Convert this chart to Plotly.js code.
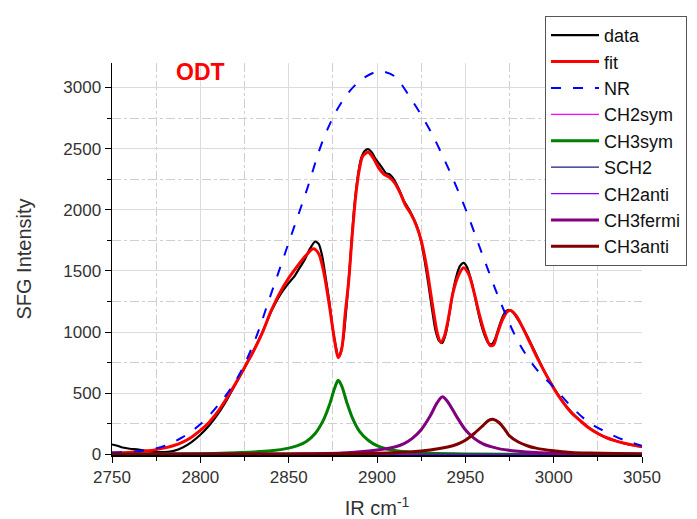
<!DOCTYPE html>
<html>
<head>
<meta charset="utf-8">
<script src="https://cdn.plot.ly/plotly-3.0.1.min.js"></script>
<style>html,body{margin:0;padding:0;background:#fff;}#chart{width:697px;height:519px;}</style>
</head>
<body>
<div id="chart"></div>
<script>
// ---- data ----
const dataX = [2750,2753,2756,2760,2765,2770,2775,2780,2785,2790,2795,2800,2805,2810,2815,2820,2825,2830,2835,2840,2845,2850,2853,2856,2859,2862,2865,2867,2869,2871,2873,2875,2877,2878,2879,2881,2883,2885,2887,2889,2891,2893,2895,2897,2899,2901,2903,2905,2907,2909,2911,2913,2915,2917,2919,2921,2923,2925,2927,2929,2931,2933,2935,2937,2939,2941,2943,2945,2947,2949,2951,2953,2955,2957,2959,2961,2963,2965,2967,2969,2971,2973,2975,2977,2979,2982,2985,2988,2991,2995,3000,3005,3010,3015,3020,3025,3030,3035,3040,3045,3050];
const dataY = [80,70,55,45,38,25,18,18,28,55,100,160,235,330,445,575,705,845,995,1165,1300,1400,1450,1520,1590,1680,1740,1720,1620,1440,1250,1020,860,800,810,950,1250,1620,2000,2260,2420,2480,2495,2470,2420,2380,2340,2300,2290,2260,2210,2150,2080,2030,1980,1920,1850,1740,1580,1400,1200,1020,930,910,990,1150,1330,1460,1540,1565,1530,1440,1320,1180,1060,970,910,900,950,1040,1120,1170,1180,1160,1120,1050,970,880,790,670,545,435,345,275,215,170,135,110,88,74,60];

const fitX = [2750,2760,2770,2775,2780,2785,2790,2795,2800,2805,2810,2815,2820,2825,2830,2835,2840,2845,2850,2855,2860,2864,2867,2870,2873,2876,2878,2880,2882,2884,2886,2888,2890,2892,2895,2898,2901,2904,2907,2910,2913,2916,2919,2922,2925,2928,2931,2934,2936,2938,2940,2943,2946,2949,2952,2955,2958,2961,2964,2966,2968,2971,2974,2976,2979,2983,2987,2991,2995,3000,3005,3010,3015,3020,3025,3030,3035,3040,3045,3050];
const fitY = [12,15,28,38,52,72,100,140,195,262,350,460,580,710,840,990,1170,1320,1440,1540,1630,1680,1640,1480,1220,930,790,860,1150,1420,1800,2120,2330,2440,2470,2420,2340,2290,2265,2220,2140,2040,1970,1880,1750,1540,1260,1000,915,960,1080,1320,1460,1525,1470,1320,1140,990,890,895,980,1100,1170,1175,1130,1020,900,780,670,540,430,340,275,215,170,135,110,90,75,62];

const nrX = [2750,2760,2770,2780,2790,2800,2810,2820,2830,2840,2850,2860,2870,2880,2890,2900,2905,2910,2920,2930,2940,2950,2960,2970,2980,2990,3000,3010,3020,3030,3040,3050];
const nrY = [12,20,35,70,140,245,400,600,900,1310,1730,2150,2590,2880,3050,3130,3125,3090,2890,2650,2350,2010,1620,1240,920,700,550,390,260,180,115,70];

const flatX = [2750,3050];
const ch2symY = [0,0];
const sch2Y = [0,0];
const ch2antiY = [0,0];

const ch3symX = [2750,2800,2820,2830,2840,2850,2855,2860,2865,2870,2873,2876,2878,2880,2883,2886,2890,2895,2900,2905,2910,2920,2930,2950,3000,3050];
const ch3symY = [0,5,12,18,28,50,70,105,170,290,400,540,605,560,420,300,190,115,70,45,30,15,8,3,0,0];

const ch3fermiX = [2750,2850,2880,2900,2910,2915,2920,2925,2930,2934,2937,2940,2945,2950,2955,2960,2965,2970,2980,2990,3000,3020,3050];
const ch3fermiY = [0,3,10,35,60,85,130,200,310,420,470,430,310,200,130,85,60,42,25,15,10,5,2];

const ch3antiX = [2750,2850,2900,2920,2930,2940,2945,2950,2955,2960,2963,2966,2969,2972,2975,2980,2985,2990,3000,3010,3020,3050];
const ch3antiY = [0,2,8,20,35,60,80,115,170,235,275,285,260,210,150,100,70,50,28,15,10,3];

const xTickVals = [2750,2800,2850,2900,2950,3000,3050];
const yTickVals = [0,500,1000,1500,2000,2500,3000];

const FONT = 'Arial, "Liberation Sans", sans-serif';

function tr(name, x, y, color, width, dash, smooth) {
  return {
    type: 'scatter', mode: 'lines', name: name, x: x, y: y,
    line: {color: color, width: width, dash: dash || 'solid', shape: smooth ? 'spline' : 'linear', smoothing: smooth || 0}
  };
}

const traces = [
  tr('data', dataX, dataY, '#000000', 2.2, 'solid', 0.6),
  tr('fit', fitX, fitY, '#ff0000', 3, 'solid', 0.8),
  tr('NR', nrX, nrY, '#0000ff', 2, '10px,12px', 1),
  tr('CH2sym', flatX, ch2symY, '#ff00ff', 1.2, 'solid', 0),
  tr('CH3sym', ch3symX, ch3symY, '#008000', 3, 'solid', 0.8),
  tr('SCH2', flatX, sch2Y, '#1a1a80', 1.2, 'solid', 0),
  tr('CH2anti', flatX, ch2antiY, '#8000ff', 1.2, 'solid', 0),
  tr('CH3fermi', ch3fermiX, ch3fermiY, '#800080', 3, 'solid', 0.8),
  tr('CH3anti', ch3antiX, ch3antiY, '#800000', 3, 'solid', 0.8)
];

const layout = {
  width: 697, height: 519,
  margin: {l: 112, r: 55, t: 63, b: 64, autoexpand: false},
  paper_bgcolor: '#ffffff', plot_bgcolor: '#ffffff',
  font: {family: FONT, size: 17, color: '#333333'},
  showlegend: true,
  legend: {
    x: 0.817, y: 1.12, xanchor: 'left', yanchor: 'top',
    bgcolor: '#ffffff', bordercolor: '#555555', borderwidth: 1,
    font: {family: FONT, size: 18, color: '#111111'},
    itemwidth: 48, traceorder: 'normal', maxheight: 400
  },
  xaxis: {
    range: [2750, 3050], tickmode: 'array', tickvals: xTickVals,
    ticks: 'outside', ticklen: 6, tickcolor: '#000', tickwidth: 1,
    showline: true, linecolor: '#000', linewidth: 1.5, mirror: false,
    showgrid: true, gridcolor: '#dcdcdc', gridwidth: 1,
    zeroline: false, layer: 'below traces',
    minor: {dtick: 25, ticks: 'outside', ticklen: 4, tickcolor: '#000', showgrid: true, gridcolor: '#cfcfcf', griddash: 'dashdot', gridwidth: 1},
    tickfont: {family: FONT, size: 17, color: '#333333'},
    title: {text: 'IR cm<sup>-1</sup>', font: {family: FONT, size: 20, color: '#333333'}, standoff: 15}
  },
  yaxis: {
    range: [-6, 3200], tickmode: 'array', tickvals: yTickVals,
    ticks: 'outside', ticklen: 6, tickcolor: '#000', tickwidth: 1,
    showline: true, linecolor: '#000', linewidth: 1.5, mirror: false,
    showgrid: true, gridcolor: '#dcdcdc', gridwidth: 1,
    zeroline: false, layer: 'below traces',
    minor: {dtick: 250, ticks: 'outside', ticklen: 4, tickcolor: '#000', showgrid: true, gridcolor: '#cfcfcf', griddash: 'dashdot', gridwidth: 1},
    tickfont: {family: FONT, size: 17, color: '#333333'},
    title: {text: 'SFG Intensity', font: {family: FONT, size: 20, color: '#333333'}, standoff: 26}
  },
  annotations: [{
    text: '<b>ODT</b>', x: 2800, y: 3125, xref: 'x', yref: 'y',
    showarrow: false, font: {family: FONT, size: 23, color: '#ff0000'}
  }]
};

Plotly.newPlot('chart', traces, layout, {displayModeBar: false, staticPlot: true});
</script>
</body>
</html>
